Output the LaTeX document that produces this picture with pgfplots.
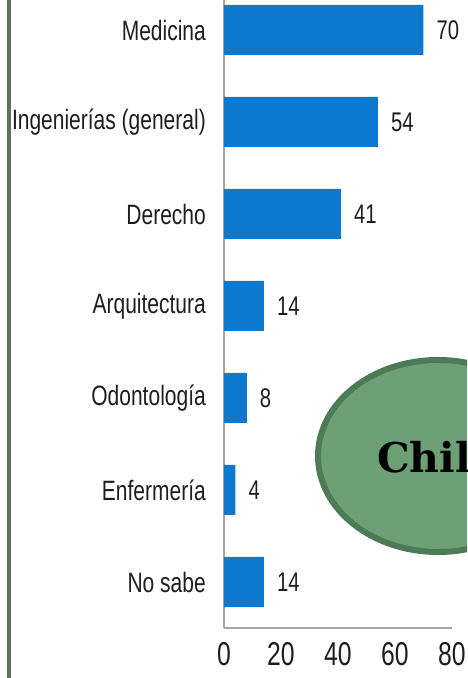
\documentclass[border=0pt]{standalone}
\usepackage{fontspec}
\setmainfont{Liberation Sans}[FakeStretch=0.75]
\newfontfamily\chilefont{DejaVu Serif}
\usepackage{pgfplots}
\pgfplotsset{compat=1.18}
\definecolor{barblue}{RGB}{12,120,206}
\definecolor{leftline}{RGB}{94,114,96}
\definecolor{ellfill}{RGB}{109,160,116}
\definecolor{ellborder}{RGB}{78,122,85}
\definecolor{axisgray}{RGB}{165,165,165}
\definecolor{txt}{RGB}{30,30,30}
\begin{document}
\begin{tikzpicture}[x=1pt,y=1pt]
\useasboundingbox (0,0) rectangle (467,678);
\begin{scope}
\clip (0,0) rectangle (467,678);
\fill[leftline] (7,0) rectangle (11,678);
\begin{axis}[
  at={(224pt,50pt)}, anchor=south west,
  scale only axis, width=228pt, height=644pt,
  xbar, bar width=50pt,
  xmin=0, xmax=80, ymin=-0.5, ymax=6.5,
  axis lines=left,
  axis line style={-, draw=axisgray, line width=1.5pt},
  xtick={0,20,40,60,80},
  ytick={0,1,2,3,4,5,6},
  yticklabels={No sabe, Enfermería, Odontología, Arquitectura, Derecho, Ingenierías (general), Medicina},
  major tick length=0pt, tick style={draw=none},
  /pgf/number format/assume math mode=true,
  yticklabel style={font=\fontsize{28}{32}\selectfont, text=txt, inner sep=0pt, xshift=-18pt},
  xticklabel style={font=\fontsize{33}{38}\selectfont, text=txt, inner sep=0pt, yshift=-14pt},
  nodes near coords,
  every node near coord/.append style={font=\fontsize{27}{31}\selectfont, text=txt, inner sep=0pt, xshift=13pt},
]
\addplot[fill=barblue, draw=none] coordinates {(14,0) (4,1) (8,2) (14,3) (41,4) (54,5) (70,6)};
\end{axis}
\draw[line width=6pt, draw=ellborder, fill=ellfill] (438,222) ellipse [x radius=120, y radius=96];
\node[anchor=base west, inner sep=0pt, font=\chilefont\bfseries\fontsize{41}{48}\selectfont] at (377,205) {Chile};
\end{scope}
\end{tikzpicture}
\end{document}
